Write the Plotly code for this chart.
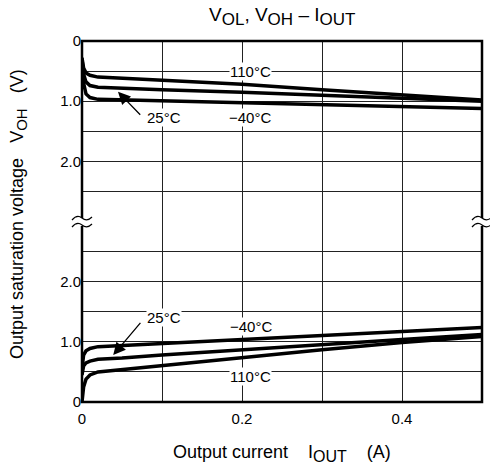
import plotly.graph_objects as go

# ---------------- data ----------------
current_a = [0, 0.002, 0.005, 0.01, 0.02, 0.05, 0.1, 0.2, 0.3, 0.4, 0.5]

# V_OH (top panel, axis reversed)
voh_110 = [0.28, 0.45, 0.53, 0.57, 0.60, 0.62, 0.65, 0.72, 0.81, 0.90, 0.98]
voh_25 = [0.30, 0.55, 0.68, 0.74, 0.77, 0.78, 0.81, 0.85, 0.90, 0.95, 1.00]
voh_m40 = [0.32, 0.70, 0.88, 0.94, 0.97, 0.98, 0.99, 1.02, 1.06, 1.09, 1.12]

# V_OL (bottom panel)
vol_m40 = [0.55, 0.78, 0.85, 0.89, 0.92, 0.94, 0.97, 1.04, 1.11, 1.17, 1.24]
vol_25 = [0.45, 0.60, 0.65, 0.68, 0.71, 0.73, 0.78, 0.87, 0.95, 1.04, 1.12]
vol_110 = [0.0, 0.25, 0.38, 0.45, 0.50, 0.54, 0.60, 0.74, 0.87, 0.99, 1.09]

x_tickvals = [0, 0.1, 0.2, 0.3, 0.4, 0.5]
x_ticktext = ["0", "", "0.2", "", "0.4", ""]
y_tickvals = [0, 0.5, 1.0, 1.5, 2.0, 2.5]
y_ticktext = ["0", "", "1.0", "", "2.0", ""]

FONT = "Liberation Sans, Arial, sans-serif"
W, H = 490, 471
L, R, T, B = 82, 8, 41, 69
PW, PH = W - L - R, H - T - B
NB = "\u00a0"


def P(px, py):
    return (px - L) / PW, (H - B - py) / PH


def sub(s, size):
    return f"<sub><span style='font-size:{size}px'>{s}</span></sub>"


fig = go.Figure()
line = dict(color="black", width=3.5)
for ys in (voh_110, voh_25, voh_m40):
    fig.add_trace(go.Scatter(x=current_a, y=ys, mode="lines", line=line,
                             xaxis="x", yaxis="y", showlegend=False, hoverinfo="skip"))
for ys in (vol_m40, vol_25, vol_110):
    fig.add_trace(go.Scatter(x=current_a, y=ys, mode="lines", line=line,
                             xaxis="x", yaxis="y2", showlegend=False, hoverinfo="skip"))

grid = dict(showgrid=True, gridcolor="#222", gridwidth=1.2, zeroline=False,
            showline=False, ticks="",
            tickfont=dict(family=FONT, size=15, color="black"))

fig.update_layout(
    width=W, height=H,
    margin=dict(l=L, r=R, t=T, b=B, pad=0),
    paper_bgcolor="white", plot_bgcolor="white",
    xaxis=dict(domain=[0, 1], range=[0, 0.5], anchor="y2", ticklabelstandoff=6,
               tickvals=x_tickvals, ticktext=x_ticktext, **grid),
    yaxis=dict(domain=[0.5, 1], range=[3, 0], anchor="x",
               tickvals=y_tickvals, ticktext=y_ticktext, **grid),
    yaxis2=dict(domain=[0, 0.5], range=[0, 3], anchor="x",
                tickvals=y_tickvals, ticktext=y_ticktext, **grid),
)

lab = dict(font=dict(family=FONT, size=15, color="black"), showarrow=False,
           bgcolor="white", borderpad=0)
ann = []
# top panel labels
ann.append(dict(x=0.21, y=0.5, xref="x", yref="y", text="110°C", **lab))
ann.append(dict(x=0.21, y=1.27, xref="x", yref="y", text="\u221240°C", **lab))
ann.append(dict(x=0.1025, y=1.27, xref="x", yref="y", text="25°C", **lab))
# bottom panel labels
ann.append(dict(x=0.1025, y=1.41, xref="x", yref="y2", text="25°C", **lab))
ann.append(dict(x=0.211, y=1.25, xref="x", yref="y2", text="\u221240°C", **lab))
ann.append(dict(x=0.211, y=0.42, xref="x", yref="y2", text="110°C", **lab))
# arrows
arr = dict(text="", showarrow=True, arrowhead=2, arrowsize=1.9, arrowwidth=1.3,
           arrowcolor="black")
ann.append(dict(x=0.045, y=0.845, xref="x", yref="y", ax=0.0746, ay=1.25,
                axref="x", ayref="y", **arr))
ann.append(dict(x=0.039, y=0.78, xref="x", yref="y2", ax=0.0746, ay=1.34,
                axref="x", ayref="y2", **arr))

# titles
tx, ty = P(282, 17)
ann.append(dict(x=tx, y=ty, xref="paper", yref="paper", showarrow=False,
                text="V" + sub("OL", 17) + ", V" + sub("OH", 17) + " \u2013 I" + sub("OUT", 17),
                font=dict(family=FONT, size=19, color="black"),
                xanchor="center", yanchor="middle"))
xx, xy = P(282, 453)
ann.append(dict(x=xx, y=xy, xref="paper", yref="paper", showarrow=False,
                text="Output current" + NB * 4 + "I" + sub("OUT", 16) + NB * 4 + "(A)",
                font=dict(family=FONT, size=18, color="black"),
                xanchor="center", yanchor="middle"))
yx, yy = P(18, 214)
ann.append(dict(x=yx, y=yy, xref="paper", yref="paper", showarrow=False,
                text="Output saturation voltage" + NB * 3 + "V" + sub("OH", 15) + NB * 3 + "(V)",
                font=dict(family=FONT, size=18, color="black"), textangle=-90,
                xanchor="center", yanchor="middle"))
fig.update_layout(annotations=ann)

# border and break marks
shapes = [dict(type="rect", xref="paper", yref="paper", x0=0, y0=0, x1=1, y1=1,
               line=dict(color="black", width=2.5), layer="above")]


def path(pts):
    s = ""
    for cmd, pxs in pts:
        coords = []
        for (a, b) in pxs:
            u, v = P(a, b)
            coords.append(f"{u:.5f},{v:.5f}")
        s += cmd + " ".join(coords) + " "
    return s.strip()


for cx in (82, 482):
    x0, y0 = P(cx - 4, 218)
    x1, y1 = P(cx + 4, 226)
    shapes.append(dict(type="rect", xref="paper", yref="paper", x0=x0, x1=x1,
                       y0=y1, y1=y0, line=dict(width=0), fillcolor="white",
                       layer="above"))
    for oy in (219, 226):
        p = path([("M", [(cx - 10, oy + 1)]),
                  ("Q", [(cx - 5, oy - 5), (cx, oy - 1)]),
                  ("Q", [(cx + 5, oy + 3), (cx + 10, oy - 2)])])
        shapes.append(dict(type="path", xref="paper", yref="paper", path=p,
                           line=dict(color="black", width=1.2), layer="above"))
fig.update_layout(shapes=shapes)

fig.write_html("out.html", config={"displayModeBar": False},
               post_script="document.body.style.margin='0';document.body.style.overflow='hidden';")
